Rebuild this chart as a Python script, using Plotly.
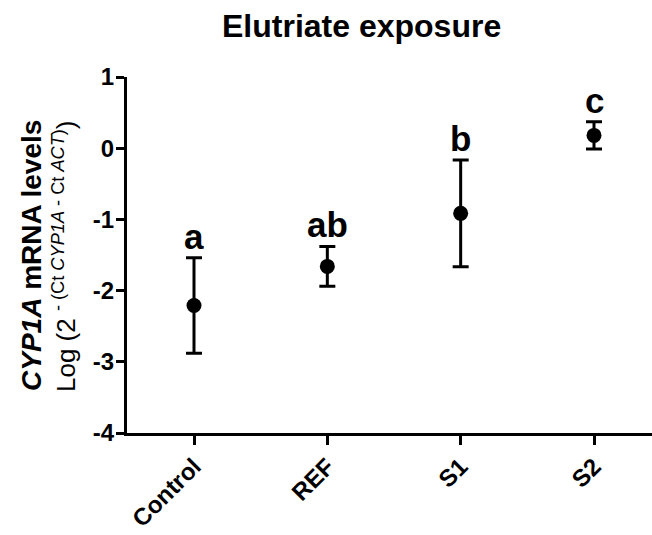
import plotly.graph_objects as go

categories = ["Control", "REF", "S1", "S2"]
means = [-2.21, -1.66, -0.915, 0.18]
errors = [0.67, 0.28, 0.75, 0.19]
letters = ["a", "ab", "b", "c"]
y_ticks = [1, 0, -1, -2, -3, -4]

FONT = "Liberation Sans, Arial, sans-serif"
W, H = 652, 535
L, R, T, B = 127, 0, 77, 102
PW, PH = W - L - R, H - T - B


def px_to_paper(px, py):
    """page pixel -> paper coords"""
    return (px - L) / PW, (H - B - py) / PH


xpos = list(range(len(categories)))

fig = go.Figure()
fig.add_trace(go.Scatter(
    x=xpos, y=means, mode="markers",
    marker=dict(color="black", size=15, symbol="circle"),
    error_y=dict(type="data", array=errors, visible=True,
                 color="black", thickness=3, width=8),
    showlegend=False,
))

for xi, m, e, lt in zip(xpos, means, errors, letters):
    fig.add_annotation(x=xi, y=m + e, text="<b>%s</b>" % lt, showarrow=False,
                       xanchor="center", yanchor="bottom", yshift=0,
                       font=dict(family=FONT, size=35, color="black"))

# Title
tx, ty = px_to_paper(361, 6)
fig.add_annotation(xref="paper", yref="paper", x=tx, y=ty,
                   text="<b>Elutriate exposure</b>", showarrow=False,
                   xanchor="center", yanchor="top",
                   font=dict(family=FONT, size=32, color="black"))

# Y-axis title (two lines)
ax1, ay1 = px_to_paper(31, 256)
fig.add_annotation(xref="paper", yref="paper", x=ax1, y=ay1,
                   text="<b><i>CYP1A</i> mRNA levels</b>", showarrow=False, textangle=-90,
                   xanchor="center", yanchor="middle",
                   font=dict(family=FONT, size=28, color="black"))
ax2, ay2 = px_to_paper(64, 256)
fig.add_annotation(xref="paper", yref="paper", x=ax2, y=ay2,
                   text="Log (2 <sup>- (Ct <i>CYP1A</i> - Ct <i>ACT</i>)</sup>)", showarrow=False, textangle=-90,
                   xanchor="center", yanchor="middle",
                   font=dict(family=FONT, size=26, color="black"))

fig.update_layout(
    width=W, height=H,
    margin=dict(l=L, r=R, t=T, b=B, autoexpand=False),
    paper_bgcolor="white", plot_bgcolor="white",
    xaxis=dict(range=[-0.5025, 3.435], tickmode="array", tickvals=xpos,
               ticktext=["<b>%s</b>" % c for c in categories],
               tickangle=-45, showline=True, linecolor="black", linewidth=3,
               ticks="outside", ticklen=9, tickwidth=3, tickcolor="black",
               ticklabelstandoff=-2,
               showgrid=False, zeroline=False, automargin=False,
               tickfont=dict(family=FONT, size=24, color="black")),
    yaxis=dict(range=[-4, 1], tickmode="array", tickvals=y_ticks,
               ticktext=["<b>%d</b>" % v for v in y_ticks],
               showline=True, linecolor="black", linewidth=3,
               ticks="outside", ticklen=8, tickwidth=3, tickcolor="black",
               ticklabelstandoff=-3,
               showgrid=False, zeroline=False, automargin=False,
               tickfont=dict(family=FONT, size=24, color="black")),
)

fig.write_html("out.html", config={"displayModeBar": False},
               post_script="document.body.style.margin='0';")
